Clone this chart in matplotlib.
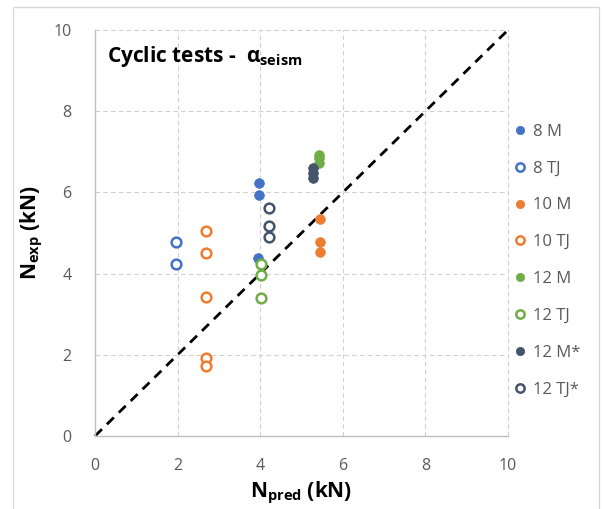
import matplotlib
matplotlib.use("Agg")
import matplotlib.pyplot as plt
from matplotlib.patches import Rectangle
from matplotlib.lines import Line2D

plt.rcParams['font.family'] = ['Open Sans', 'DejaVu Sans']
plt.rcParams['mathtext.fontset'] = 'custom'
plt.rcParams['mathtext.rm'] = 'Open Sans'
plt.rcParams['mathtext.bf'] = 'Open Sans:bold'
plt.rcParams['mathtext.it'] = 'Open Sans:italic'

# Data (N_pred, N_exp) in kN
series_names = ["8 M", "8 TJ", "10 M", "10 TJ", "12 M", "12 TJ", "12 M*", "12 TJ*"]
x_8M = [3.97, 3.97, 3.95]
y_8M = [6.23, 5.94, 4.38]
x_8TJ = [1.95, 1.95]
y_8TJ = [4.78, 4.24]
x_10M = [5.45, 5.45, 5.45]
y_10M = [5.34, 4.79, 4.52]
x_10TJ = [2.69, 2.69, 2.69, 2.69, 2.69]
y_10TJ = [5.06, 4.51, 3.43, 1.93, 1.72]
x_12M = [5.42, 5.42, 5.42]
y_12M = [6.93, 6.85, 6.72]
x_12TJ = [4.03, 4.03, 4.03]
y_12TJ = [4.23, 3.97, 3.41]
x_12Ms = [5.27, 5.27, 5.27]
y_12Ms = [6.60, 6.48, 6.35]
x_12TJs = [4.22, 4.22, 4.22]
y_12TJs = [5.61, 5.18, 4.89]

xs = [x_8M, x_8TJ, x_10M, x_10TJ, x_12M, x_12TJ, x_12Ms, x_12TJs]
ys = [y_8M, y_8TJ, y_10M, y_10TJ, y_12M, y_12TJ, y_12Ms, y_12TJs]
colors = ["#4472C4", "#4472C4", "#ED7D31", "#ED7D31", "#70AD47", "#70AD47", "#44546A", "#44546A"]
filled = [True, False, True, False, True, False, True, False]

ticks = [0, 2, 4, 6, 8, 10]

fig = plt.figure(figsize=(6.02, 5.09), dpi=100)
ax = fig.add_axes([95/602, 1-436/509, (508-95)/602, (436-30)/509])

fig.patches.append(Rectangle((13/602, -0.01), (599-13)/602, 1.01-7/509,
                             transform=fig.transFigure, fill=False,
                             edgecolor="#d9d9d9", linewidth=1.0))

ax.set_xlim(0, 10)
ax.set_ylim(0, 10)
for t in ticks[1:]:
    ax.axvline(t, color="#d0d0d0", linestyle=(0, (4, 3)), linewidth=0.8, zorder=0, clip_on=False)
    ax.axhline(t, color="#d0d0d0", linestyle=(0, (4, 3)), linewidth=0.8, zorder=0, clip_on=False)

ax.plot([0, 10], [0, 10], color="black", linestyle=(0, (3.5, 2.5)), linewidth=2.0, zorder=1, clip_on=False)

handles = []
for name, x, y, c, f in zip(series_names, xs, ys, colors, filled):
    ax.plot(x, y, linestyle="none", marker="o", markersize=7,
            markerfacecolor=c if f else "white", markeredgecolor=c,
            markeredgewidth=0.5 if f else 1.8, zorder=3)
    handles.append(Line2D([], [], linestyle="none", marker="o", markersize=6,
                          markerfacecolor=c if f else "white", markeredgecolor=c,
                          markeredgewidth=0.5 if f else 1.8, label=name))

for s in ["top", "right"]:
    ax.spines[s].set_visible(False)
for s in ["left", "bottom"]:
    ax.spines[s].set_color("#bfbfbf")
    ax.spines[s].set_linewidth(1.0)

ax.set_xticks(ticks)
ax.set_yticks(ticks)
ax.set_xticklabels([str(t) for t in ticks])
ax.set_yticklabels([str(t) for t in ticks])
ax.tick_params(axis="x", length=0, pad=16, labelsize=11.5, labelcolor="#595959")
ax.tick_params(axis="y", length=0, pad=17, labelsize=11.5, labelcolor="#595959")

ax.set_xlabel(r"$\mathbf{N_{pred}}$ (kN)", fontsize=15, fontweight="bold", labelpad=4)
ax.set_ylabel(r"$\mathbf{N_{exp}}$ (kN)", fontsize=15, fontweight="bold", labelpad=6)

ax.text(0.28, 9.35, r"Cyclic tests -  $\mathbf{α_{seism}}$", fontsize=15, fontweight="bold",
        color="black", va="center", ha="left")

leg = fig.legend(handles=handles, loc="upper left", bbox_to_anchor=(507/602, 1-117/509),
                 frameon=False, fontsize=12, labelspacing=1.25, handlelength=0.8,
                 handletextpad=0.35, borderaxespad=0)
for t in leg.get_texts():
    t.set_color("#595959")

fig.savefig("out.png", dpi=100)
